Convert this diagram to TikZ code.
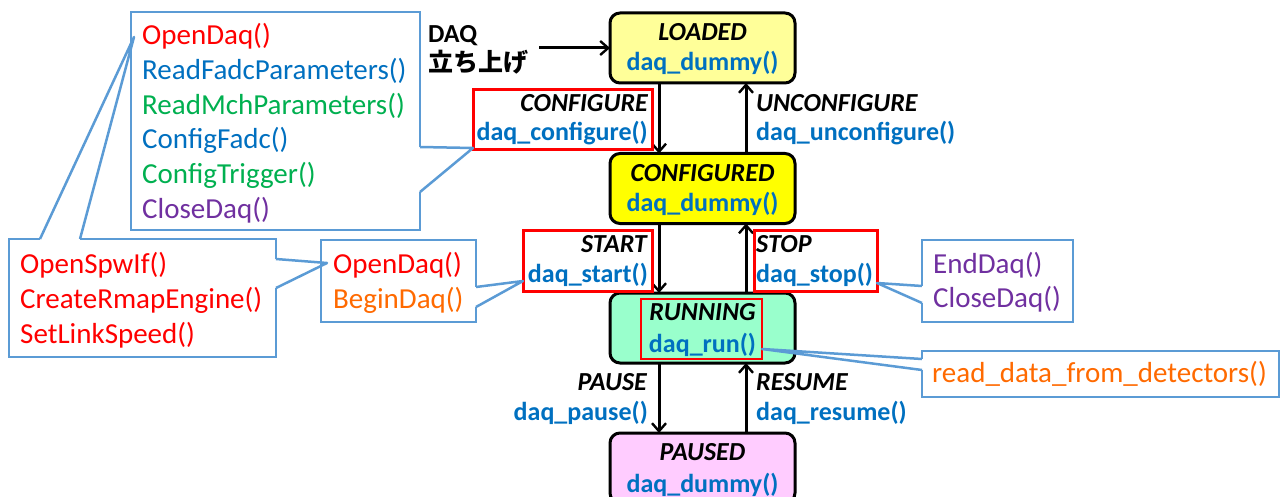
\documentclass[tikz,border=0pt]{standalone}
\usepackage{fontspec}
\setmainfont{Carlito}
\newfontfamily\jpfont{Noto Sans CJK JP}
\usetikzlibrary{arrows.meta,calc}
\definecolor{cb}{HTML}{5B9BD5}
\definecolor{tb}{HTML}{0070C0}
\definecolor{tg}{HTML}{00B050}
\definecolor{tp}{HTML}{7030A0}
\definecolor{torange}{HTML}{FF6A00}
\definecolor{ldfill}{HTML}{FFFF99}
\definecolor{cffill}{HTML}{FFFF00}
\definecolor{runfill}{HTML}{99FFCC}
\definecolor{pfill}{HTML}{FFCCFF}
\tikzset{
 state/.style={draw=black, line width=3pt, rounded corners=10pt, minimum width=185pt, minimum height=70pt, inner sep=0pt, outer sep=0pt},
 cbox/.style={draw=cb, line width=2.5pt, fill=white, inner sep=0pt, outer sep=0pt, anchor=north west},
 rbox/.style={draw=red, line width=3pt, inner sep=0pt, outer sep=0pt, anchor=north west},
 ctext/.style={font=\fontsize{29}{34}\selectfont, inner sep=0pt, anchor=base west},
 stname/.style={font=\fontsize{26}{30}\selectfont\bfseries\itshape, inner sep=0pt, anchor=base},
 stfun/.style={font=\fontsize{26}{30}\selectfont\bfseries, text=tb, inner sep=0pt, anchor=base},
 lbl/.style={font=\fontsize{26}{30}\selectfont\bfseries\itshape, inner sep=0pt},
 lfun/.style={font=\fontsize{26}{30}\selectfont\bfseries, text=tb, inner sep=0pt},
 arr/.style={line width=3pt, -{Straight Barb[length=8pt,width=14pt,line width=2.4pt]}},
 wedge/.style={draw=cb, line width=2.5pt, line join=round},
}
\begin{document}
\begin{tikzpicture}[x=1pt,y=-1pt]
\useasboundingbox (0,0) rectangle (1281,497);
\clip (0,0) rectangle (1281,497);

% state boxes
\node[state,fill=ldfill] (lo) at (702.5,48) {};
\node[state,fill=cffill] (cf) at (702.5,188.5) {};
\node[state,fill=runfill] (ru) at (702.5,328) {};
\node[state,fill=pfill] (pa) at (702.5,468) {};

\node[stname] (lon) at ($(lo.center)+(0,-7)$) {LOADED};
\node[stfun] (lof) at ($(lo.center)+(0,23)$) {daq\_dummy()};
\node[stname] (cfn) at ($(cf.center)+(0,-7)$) {CONFIGURED};
\node[stfun] (cff) at ($(cf.center)+(0,23)$) {daq\_dummy()};
\node[stname] (run) at ($(ru.center)+(0,-8)$) {RUNNING};
\node[stfun] (ruf) at ($(ru.center)+(0,24)$) {daq\_run()};
\node[stname] (pan) at ($(pa.center)+(0,-8)$) {PAUSED};
\node[stfun] (paf) at ($(pa.center)+(0,24)$) {daq\_dummy()};

% transition arrows
\draw[arr] ($(lo.south)+(-43.5,0)$) -- ($(cf.north)+(-43.5,0)$);
\draw[arr] ($(cf.north)+(43.5,0)$) -- ($(lo.south)+(43.5,0)$);
\draw[arr] ($(cf.south)+(-43.5,0)$) -- ($(ru.north)+(-43.5,0)$);
\draw[arr] ($(ru.north)+(43.5,0)$) -- ($(cf.south)+(43.5,0)$);
\draw[arr] ($(ru.south)+(-43.5,0)$) -- ($(pa.north)+(-43.5,0)$);
\draw[arr] ($(pa.north)+(43.5,0)$) -- ($(ru.south)+(43.5,0)$);

% start arrow
\node[font=\fontsize{26}{30}\selectfont\bfseries, inner sep=0pt, anchor=base west] (daq) at (428,43) {DAQ};
\node[font=\fontsize{25}{30}\selectfont\jpfont\bfseries, inner sep=0pt, anchor=base west] (tachi) at (428,72) {立ち上げ};
\coordinate (din) at (539,48);
\draw[arr] (din) -- (lo.west);

% red boxes
\node[rbox,minimum width=179pt,minimum height=60pt] (cfg) at (473,90) {};
\node[rbox,minimum width=129pt,minimum height=61pt] (st) at (523,230) {};
\node[rbox,minimum width=123pt,minimum height=61pt] (sq) at (754,230) {};
\node[rbox,line width=1.8pt,minimum width=121pt,minimum height=60pt] (ir) at (641,299) {};

% transition labels
\node[lbl,anchor=base east] (l1) at (648,112) {CONFIGURE};
\node[lfun,anchor=base east] (f1) at (648,141) {daq\_configure()};
\node[lbl,anchor=base west] (l2) at (756,112) {UNCONFIGURE};
\node[lfun,anchor=base west] (f2) at (756,141) {daq\_unconfigure()};
\node[lbl,anchor=base east] (l3) at (647,252) {START};
\node[lfun,anchor=base east] (f3) at (648,282) {daq\_start()};
\node[lbl,anchor=base west] (l4) at (756,252) {STOP};
\node[lfun,anchor=base west] (f4) at (756,282) {daq\_stop()};
\node[lbl,anchor=base east] (l5) at (647,390) {PAUSE};
\node[lfun,anchor=base east] (f5) at (648,420) {daq\_pause()};
\node[lbl,anchor=base west] (l6) at (756,390) {RESUME};
\node[lfun,anchor=base west] (f6) at (756,420) {daq\_resume()};

% callout boxes
\node[cbox,minimum width=289pt,minimum height=218pt] (bc) at (131,12) {};
\node[cbox,minimum width=267pt,minimum height=118pt] (sp) at (9,239) {};
\node[cbox,minimum width=155pt,minimum height=82pt] (md) at (321,240) {};
\node[cbox,minimum width=151pt,minimum height=82pt] (ed) at (922,240) {};
\node[cbox,minimum width=357pt,minimum height=46pt] (rd) at (922,351) {};

% wedges
\coordinate (w1a) at ($(bc.north east)+(0,135)$);
\coordinate (w1b) at ($(bc.north east)+(0,180)$);
\coordinate (w1t) at ($(cfg.south west)+(0,-2)$);
\fill[white] ($(w1a)+(-1.5,0)$) rectangle ($(w1b)+(1.5,0)$);
\draw[wedge] (w1a) -- (w1t) -- (w1b);

\coordinate (w2a) at ($(sp.north west)+(31,0)$);
\coordinate (w2b) at ($(sp.north west)+(71,0)$);
\coordinate (w2t) at ($(bc.north west)+(3,25)$);
\fill[white] ($(w2a)+(0,-1.5)$) rectangle ($(w2b)+(0,1.5)$);
\draw[wedge] (w2a) -- (w2t) -- (w2b);

\coordinate (w3a) at ($(sp.north east)+(0,20)$);
\coordinate (w3b) at ($(sp.north east)+(0,49)$);
\coordinate (w3t) at ($(md.north west)+(6,23)$);
\fill[white] ($(w3a)+(-1.5,0)$) rectangle ($(w3b)+(1.5,0)$);
\draw[wedge] (w3a) -- (w3t) -- (w3b);

\coordinate (w4a) at ($(md.north east)+(0,47)$);
\coordinate (w4b) at ($(md.north east)+(0,67)$);
\coordinate (w4t) at ($(st.south west)+(0,-10)$);
\fill[white] ($(w4a)+(-1.5,0)$) rectangle ($(w4b)+(1.5,0)$);
\draw[wedge] (w4a) -- (w4t) -- (w4b);

\coordinate (w5a) at ($(ed.north west)+(0,46)$);
\coordinate (w5b) at ($(ed.north west)+(0,63)$);
\coordinate (w5t) at ($(sq.south east)+(0,-8)$);
\fill[white] ($(w5a)+(-1.5,0)$) rectangle ($(w5b)+(1.5,0)$);
\draw[wedge] (w5a) -- (w5t) -- (w5b);

\coordinate (w6a) at ($(rd.north west)+(0,8)$);
\coordinate (w6b) at ($(rd.north west)+(0,19)$);
\coordinate (w6t) at ($(ir.south east)+(0,-10)$);
\fill[white] ($(w6a)+(-1.5,0)$) rectangle ($(w6b)+(1.5,0)$);
\draw[wedge] (w6a) -- (w6t) -- (w6b);

% callout texts
\node[ctext,text=red] (b1) at (142,45) {OpenDaq()};
\node[ctext,text=tb] (b2) at (142,79.6) {ReadFadcParameters()};
\node[ctext,text=tg] (b3) at (142,114.2) {ReadMchParameters()};
\node[ctext,text=tb] (b4) at (142,148.8) {ConfigFadc()};
\node[ctext,text=tg] (b5) at (142,183.4) {ConfigTrigger()};
\node[ctext,text=tp] (b6) at (142,218) {CloseDaq()};

\node[ctext,text=red] (s1) at (20,273) {OpenSpwIf()};
\node[ctext,text=red] (s2) at (20,308) {CreateRmapEngine()};
\node[ctext,text=red] (s3) at (20,343) {SetLinkSpeed()};

\node[ctext,text=red] (m1) at (333,273) {OpenDaq()};
\node[ctext,text=torange] (m2) at (333,308) {BeginDaq()};

\node[ctext,text=tp] (e1) at (933,273) {EndDaq()};
\node[ctext,text=tp] (e2) at (933,307) {CloseDaq()};

\node[ctext,text=torange] (r1) at (932,382) {read\_data\_from\_detectors()};
\end{tikzpicture}
\end{document}
